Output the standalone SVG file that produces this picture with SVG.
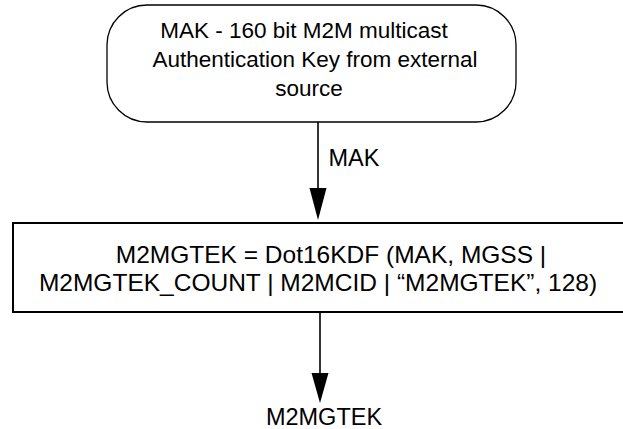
<svg xmlns="http://www.w3.org/2000/svg" width="623" height="429" viewBox="0 0 623 429">
  <style>
    .lbl { font-family: "Liberation Sans", Arial, sans-serif; font-size: 23.5px; fill: #000; text-anchor: middle; }
    .top { font-size: 22.5px; }
    .kdf { font-size: 24.5px; }
    .box { fill: #fff; stroke: #000; }
    .conn { stroke: #000; stroke-width: 1.6; fill: none; }
    .head { fill: #000; }
  </style>
  <rect width="623" height="429" fill="#fff"/>

  <!-- source key -->
  <g id="node-mak">
    <rect class="box" x="107" y="5" width="409" height="117" rx="40" ry="40" stroke-width="1.3"/>
    <text class="lbl top" x="304" y="38">MAK - 160 bit M2M multicast</text>
    <text class="lbl top" x="315" y="67">Authentication Key from external</text>
    <text class="lbl top" x="309" y="96">source</text>
  </g>

  <!-- key derivation -->
  <g id="node-kdf">
    <rect class="box" x="13" y="223" width="640" height="89" stroke-width="2"/>
    <text class="lbl kdf" x="331" y="263">M2MGTEK = Dot16KDF (MAK, MGSS |</text>
    <text class="lbl kdf" x="318" y="291">M2MGTEK_COUNT | M2MCID | “M2MGTEK”, 128)</text>
  </g>

  <!-- derived key -->
  <g id="node-out">
    <text class="lbl" x="324" y="425">M2MGTEK</text>
  </g>

  <g id="connectors">
    <line class="conn" x1="318" y1="122" x2="318" y2="190"/>
    <polygon class="head" points="309.5,188 326.5,188 318,220"/>
    <text class="lbl" x="354" y="166">MAK</text>
    <line class="conn" x1="320" y1="312" x2="320" y2="375"/>
    <polygon class="head" points="311.5,373 328.5,373 320,403"/>
  </g>
</svg>
